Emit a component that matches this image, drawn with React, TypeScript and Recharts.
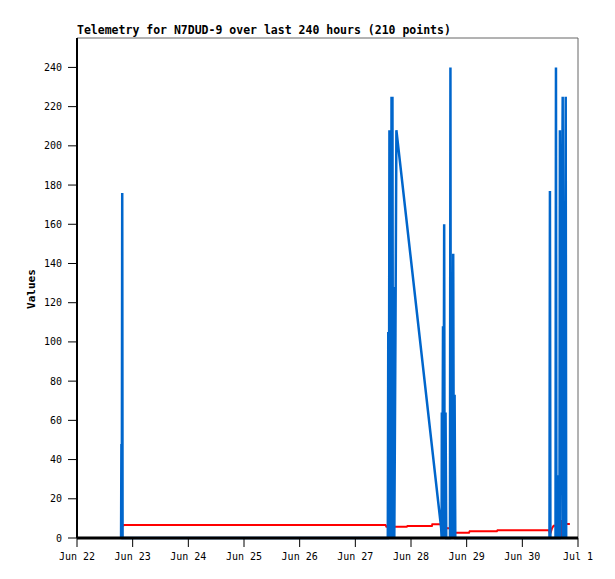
import { LineChart, Line, XAxis, YAxis, ReferenceLine } from 'recharts'

// hours since Jun 22 00:00
const dayLabels = ['Jun 22', 'Jun 23', 'Jun 24', 'Jun 25', 'Jun 26', 'Jun 27', 'Jun 28', 'Jun 29', 'Jun 30', 'Jul 1']
const valueTicks = [0, 20, 40, 60, 80, 100, 120, 140, 160, 180, 200, 220, 240]

const blueHours = [
  19.0, 19.15, 19.3, 19.5, 19.65,
  134.0, 134.2, 134.45, 134.7, 134.95, 135.2, 135.4, 135.6, 135.8, 136.0, 136.25, 136.5, 136.8, 137.3, 137.7,
  157.0, 157.2, 157.3, 157.5, 157.8, 158.0, 158.3, 158.5, 158.9, 159.2,
  160.8, 161.0, 161.2, 161.5, 161.8, 162.2, 162.5, 162.8, 163.1,
  203.7, 203.9, 204.1, 206.3, 206.5, 206.7, 207.0, 207.2, 208.0, 208.2, 208.4, 209.4, 209.6, 209.8, 210.0, 210.7, 210.9,
]
const blueValues = [
  0, 48, 0, 176, 0,
  0, 105, 0, 208, 0, 208, 0, 225, 0, 225, 0, 128, 0, 104, 208,
  5, 0, 64, 0, 108, 0, 160, 0, 64, 0,
  0, 240, 0, 81, 0, 145, 0, 73, 0,
  0, 177, 0, 0, 240, 0, 32, 0, 0, 208, 0, 225, 0, 24, 0, 225, 0,
]

const redHours = [
  19.8, 20.2, 133.0, 133.4, 142.2, 142.5, 153.0, 153.2, 157.0, 159.5, 160.5, 163.2, 169.0, 169.3, 181.0, 181.3,
  203.5, 203.8, 204.2, 204.8, 205.5, 208.5, 208.7, 208.8, 209.0, 210.2, 210.6, 212.5,
]
const redValues = [
  6.0, 6.6, 6.6, 5.8, 5.8, 6.1, 6.1, 7.0, 7.0, 5.0, 5.0, 2.7, 2.7, 3.4, 3.4, 3.9,
  3.9, 2.7, 2.7, 5.0, 6.3, 6.3, 9.2, 0.5, 6.3, 6.3, 7.2, 7.2,
]

const blueData = blueHours.map((h, i) => ({ h, v: blueValues[i] }))
const redData = redHours.map((h, i) => ({ h, v: redValues[i] }))
const dayTicks = dayLabels.map((_, i) => i * 24)

const mono = '"DejaVu Sans Mono", "Liberation Mono", monospace'

const App = () => {
  return (
    <div style={{ position: 'absolute', left: 0, top: 0, width: 615, height: 579, background: 'white', fontFamily: mono }}>
      <div style={{ position: 'absolute', left: 77, top: 23, fontSize: 11.5, fontWeight: 'bold', whiteSpace: 'nowrap' }}>
        Telemetry for N7DUD-9 over last 240 hours (210 points)
      </div>
      <div
        style={{
          position: 'absolute',
          left: 31,
          top: 289,
          fontSize: 11,
          fontWeight: 'bold',
          transform: 'translate(-50%, -50%) rotate(-90deg)',
          whiteSpace: 'nowrap',
        }}
      >
        Values
      </div>
      <LineChart width={615} height={579} margin={{ top: 38, right: 37, left: 17, bottom: 11 }}>
        <ReferenceLine y={255} stroke="#666" />
        <ReferenceLine x={216} stroke="#666" />
        <Line
          data={redData}
          dataKey="v"
          type="linear"
          dot={false}
          stroke="#ff0000"
          strokeWidth={2}
          isAnimationActive={false}
        />
        <Line
          data={blueData}
          dataKey="v"
          type="linear"
          dot={false}
          stroke="#0066cc"
          strokeWidth={2.5}
          isAnimationActive={false}
        />
        <YAxis
          domain={[0, 255]}
          ticks={valueTicks}
          width={60}
          tickSize={9}
          tickMargin={6}
          axisLine={{ stroke: '#000', strokeWidth: 2 }}
          tickLine={{ stroke: '#000' }}
          tick={{ fontSize: 10, fill: '#000', fontFamily: mono }}
        />
        <XAxis
          dataKey="h"
          type="number"
          domain={[0, 216]}
          ticks={dayTicks}
          tickFormatter={(v) => dayLabels[Math.round(v / 24)]}
          height={30}
          tickSize={9}
          tickMargin={6}
          axisLine={{ stroke: '#000', strokeWidth: 3 }}
          tickLine={{ stroke: '#000' }}
          tick={{ fontSize: 10, fill: '#000', fontFamily: mono }}
          interval={0}
        />
      </LineChart>
    </div>
  )
}

export default App
